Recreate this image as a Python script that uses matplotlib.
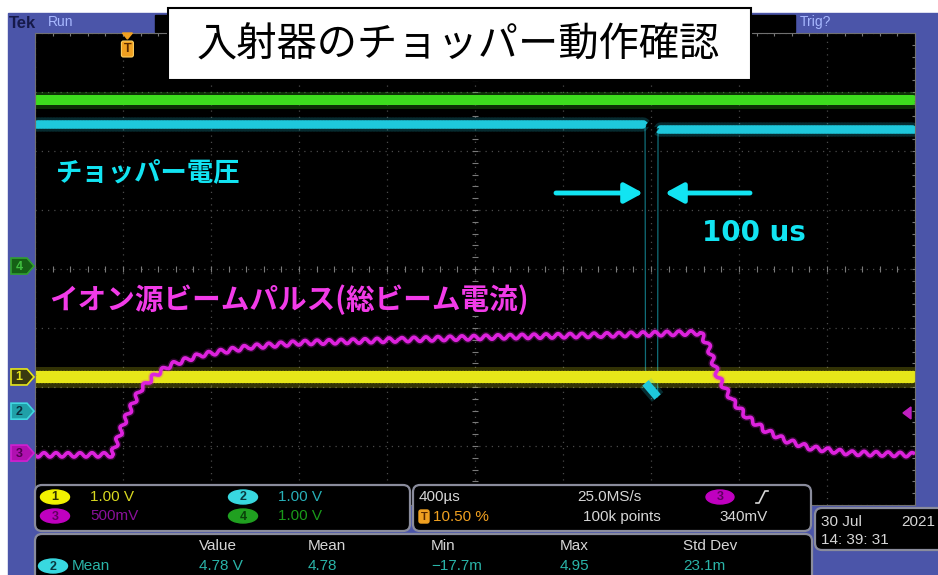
import numpy as np
import matplotlib
matplotlib.use('Agg')
import matplotlib.pyplot as plt
from matplotlib.patches import Rectangle, FancyBboxPatch, Polygon, Ellipse

plt.rcParams['font.family'] = ['Noto Sans CJK JP', 'DejaVu Sans']
fuenteScope = ['Liberation Sans Narrow', 'Liberation Sans', 'DejaVu Sans']

# Textos de la pantalla
tituloTexto = '入射器のチョッパー動作確認'
etiquetaChopper = 'チョッパー電圧'
etiquetaBeam = 'イオン源ビームパルス(総ビーム電流)'
etiquetaAncho = '100 us'

# Trazas (tiempo en us desde el borde izquierdo, nivel en divisiones)
tiempoTotal = [0, 4000]
verdeNivel = [2.86, 2.86]
amarilloNivel = [-1.83, -1.83]

cianTiempo = [0, 2773, 2775, 2830, 2832, 4000]
cianNivel = [2.46, 2.46, -1.93, -2.17, 2.37, 2.37]

magentaTiempo = [0, 350, 409, 477, 545, 614, 750, 977, 1205, 1659, 2114, 2568,
                 3023, 3059, 3105, 3168, 3236, 3318, 3409, 3523, 3705, 4000]
magentaNivel = [-3.15, -3.15, -2.56, -2.05, -1.80, -1.63, -1.46, -1.32, -1.25, -1.20, -1.15, -1.12,
                -1.08, -1.29, -1.83, -2.22, -2.51, -2.73, -2.90, -3.03, -3.12, -3.15]

# Canales
canales = ['1', '2', '3', '4']
canalOffset = [-1.83, -2.41, -3.12, 0.05]
canalEscala = ['1.00 V', '1.00 V', '500mV', '1.00 V']
posicionTrigger = 420
nivelTrigger = -2.44

# Lecturas inferiores
baseTiempo = '400\u00b5s'
muestreo = '25.0MS/s'
puntos = '100k points'
triggerPct = '10.50 %'
triggerVolt = '340mV'
fechaTexto = ['30 Jul', '2021', '14: 39: 31']
medidaCabecera = ['Value', 'Mean', 'Min', 'Max', 'Std Dev']
medidaValor = ['4.78 V', '4.78', '\u221217.7m', '4.95', '23.1m']

azulMarco = '#4b55a9'
verde = '#3ddc1e'
cian = '#1ec8dc'
cianTexto = '#12e4f2'
amarillo = '#e6e619'
magenta = '#dd22dd'
magentaTexto = '#f23be8'
naranja = '#f0a020'
grisTexto = '#d6d6d6'
tealTexto = '#2ab4a8'

W, H = 938, 575
fig = plt.figure(figsize=(W / 100, H / 100), dpi=100)

# Fondo (marco azul)
fondo = fig.add_axes([0, 0, 1, 1], zorder=0)
fondo.set_xlim(0, W)
fondo.set_ylim(H, 0)
fondo.axis('off')
fondo.add_patch(Rectangle((0, 0), W, H, color='white'))
fondo.add_patch(Rectangle((8, 13), W - 8, H - 13, color=azulMarco))
fondo.add_patch(Rectangle((155, 15), 640, 17, color='black'))
fondo.text(9, 23, 'Tek', color='#161a4a', fontsize=12, fontweight='bold', va='center', family=fuenteScope)
fondo.text(48, 22, 'Run', color='#a8b8ff', fontsize=10, va='center', family=fuenteScope)
fondo.text(800, 22, 'Trig?', color='#a8b8ff', fontsize=10, va='center', family=fuenteScope)

# Reticula
ax = fig.add_axes([35 / W, (H - 505) / H, 880 / W, 472 / H], zorder=1)
ax.set_facecolor('black')
ax.set_xlim(0, 4000)
ax.set_ylim(-4, 4)
ax.set_xticks(np.arange(0, 4001, 400))
ax.set_yticks(np.arange(-4, 5, 1))
ax.tick_params(length=0, labelbottom=False, labelleft=False)
ax.grid(color='#4a4a4a', linestyle=(0, (1, 4)), linewidth=0.9)
for s in ax.spines.values():
    s.set_color('#707070')
    s.set_linewidth(0.8)
ticksX = np.arange(0, 4001, 80)
ticksY = np.arange(-4, 4.01, 0.2)
ax.plot(ticksX, np.zeros_like(ticksX), ls='none', marker='|', ms=4, color='#7a7a7a', mew=0.8)
ax.plot(np.full_like(ticksY, 2000), ticksY, ls='none', marker='_', ms=4, color='#7a7a7a', mew=0.8)
ax.plot(np.full_like(ticksY, 4000), ticksY, ls='none', marker='_', ms=4, color='#7a7a7a', mew=0.8)
ax.plot(ticksX, np.full_like(ticksX, 4.0), ls='none', marker='|', ms=4, color='#7a7a7a', mew=0.8)


def trazo(x, y, color, lw, sketch=None):
    base = ax.plot(x, y, color=color, lw=lw * 1.8, alpha=0.22, solid_capstyle='butt')[0]
    linea = ax.plot(x, y, color=color, lw=lw, solid_capstyle='butt')[0]
    if sketch:
        base.set_sketch_params(*sketch)
        linea.set_sketch_params(*sketch)
    return linea


trazo(tiempoTotal, verdeNivel, verde, 6.0, (1.0, 3, 1))
ax.plot(cianTiempo, cianNivel, color=cian, lw=0.9, alpha=0.55)
trazo(cianTiempo[:2], cianNivel[:2], cian, 5.0, (1.0, 3, 1))
trazo(cianTiempo[4:], cianNivel[4:], cian, 5.0, (1.0, 3, 1))
trazo(tiempoTotal, amarilloNivel, amarillo, 7.5, (1.2, 3, 1))
trazo(cianTiempo[2:4], cianNivel[2:4], cian, 6.0)
trazo(magentaTiempo, magentaNivel, magenta, 2.6, (2.2, 12, 1))

# Capa superior en pixeles
ov = fig.add_axes([0, 0, 1, 1], zorder=2)
ov.set_xlim(0, W)
ov.set_ylim(H, 0)
ov.axis('off')
ov.patch.set_alpha(0)


def aPixel(t, v):
    xd, yd = ax.transData.transform((t, v))
    return xd, H - yd


# Marcadores de canal a la izquierda
marcaFondo = {'1': '#3a3a10', '2': '#20a0a8', '3': '#b010b0', '4': '#156015'}
marcaBorde = {'1': amarillo, '2': '#40d8e0', '3': '#d020d0', '4': '#30a030'}
marcaTexto = {'1': amarillo, '2': '#0a3040', '3': '#500050', '4': '#40c040'}
for nombre, nivel in zip(canales, canalOffset):
    _, yp = aPixel(0, nivel)
    forma = [(11, yp - 8), (27, yp - 8), (34, yp), (27, yp + 8), (11, yp + 8)]
    ov.add_patch(Polygon(forma, closed=True, facecolor=marcaFondo[nombre],
                         edgecolor=marcaBorde[nombre], lw=1.2))
    ov.text(19, yp + 0.5, nombre, color=marcaTexto[nombre], fontsize=9, fontweight='bold',
            ha='center', va='center', family=fuenteScope)

# Marcador de trigger (posicion y nivel)
xt, _ = aPixel(posicionTrigger, 0)
ov.add_patch(Polygon([(xt - 5, 33), (xt + 5, 33), (xt, 39)], color=naranja))
ov.add_patch(FancyBboxPatch((xt - 6, 41), 12, 16, boxstyle='round,pad=0,rounding_size=2',
                            facecolor=naranja, edgecolor='#ffd060', lw=0.8))
ov.text(xt, 49.5, 'T', color='#5a2a00', fontsize=9, fontweight='bold', ha='center', va='center',
        family=fuenteScope)
_, yn = aPixel(4000, nivelTrigger)
ov.add_patch(Polygon([(903, yn), (911, yn - 6), (911, yn + 6)], color='#c020c0'))

# Titulo en recuadro blanco
ov.add_patch(Rectangle((168, 8), 583, 72, facecolor='white', edgecolor='black', lw=1.5))
ov.text(458, 45, tituloTexto, color='black', fontsize=29, ha='center', va='center')

# Anotaciones
ov.text(56, 173, etiquetaChopper, color=cianTexto, fontsize=19, fontweight='bold', va='center')
ov.text(702, 233, etiquetaAncho, color=cianTexto, fontsize=20, fontweight='bold', va='center',
        family='DejaVu Sans')
ov.text(49, 300, etiquetaBeam, color=magentaTexto, fontsize=20.6, fontweight='bold', va='center')
flecha = dict(arrowstyle='-|>,head_length=0.55,head_width=0.3', color=cianTexto, lw=3.5,
              shrinkA=0, shrinkB=0, mutation_scale=20)
ov.annotate('', xy=(643, 193), xytext=(556, 193), arrowprops=flecha)
ov.annotate('', xy=(665, 193), xytext=(750, 193), arrowprops=flecha)

# Cajas de lecturas
caja = dict(boxstyle='round,pad=0,rounding_size=7', facecolor='black', edgecolor='#8a8c9c', lw=1.6)
ov.add_patch(FancyBboxPatch((35, 485), 375, 46, **caja))
ov.add_patch(FancyBboxPatch((413, 485), 398, 46, **caja))
ov.add_patch(FancyBboxPatch((815, 508), 140, 42, **caja))
ov.add_patch(FancyBboxPatch((35, 534), 777, 60, **caja))

chipColor = {'1': '#f2f200', '2': '#38d8e0', '3': '#c000c0', '4': '#20a020'}
chipTexto = {'1': '#303000', '2': '#0a3a40', '3': '#600060', '4': '#0a400a'}
escalaColor = {'1': '#d8d820', '2': '#28b0b8', '3': '#8a109a', '4': '#1a9a1a'}
chipPos = {'1': (55, 497), '2': (243, 497), '3': (55, 516), '4': (243, 516)}
for nombre, escala in zip(canales, canalEscala):
    cx, cy = chipPos[nombre]
    ov.add_patch(Ellipse((cx, cy), 29, 14, color=chipColor[nombre]))
    ov.text(cx, cy + 0.5, nombre, color=chipTexto[nombre], fontsize=9, fontweight='bold',
            ha='center', va='center', family=fuenteScope)
    ov.text(cx + 35, cy, escala, color=escalaColor[nombre], fontsize=11, va='center', family=fuenteScope)

ov.text(419, 497, baseTiempo, color=grisTexto, fontsize=11, va='center', family=fuenteScope)
ov.text(577, 497, muestreo, color=grisTexto, fontsize=11, va='center', family=fuenteScope)
ov.add_patch(Ellipse((720, 497), 28, 14, color='#c000c0'))
ov.text(720, 497.5, '3', color='#600060', fontsize=9, fontweight='bold', ha='center', va='center',
        family=fuenteScope)
ov.plot([756, 759, 765, 768], [503, 503, 491, 491], color=grisTexto, lw=1.2)
ov.add_patch(FancyBboxPatch((419, 510), 10, 13, boxstyle='round,pad=0,rounding_size=2', color=naranja))
ov.text(424, 517, 'T', color='#5a2a00', fontsize=8, fontweight='bold', ha='center', va='center',
        family=fuenteScope)
ov.text(433, 517, triggerPct, color=naranja, fontsize=11, va='center', family=fuenteScope)
ov.text(583, 517, puntos, color=grisTexto, fontsize=11, va='center', family=fuenteScope)
ov.text(719, 517, triggerVolt, color=grisTexto, fontsize=11, va='center', family=fuenteScope)

ov.text(821, 522, fechaTexto[0], color=grisTexto, fontsize=11, va='center', family=fuenteScope)
ov.text(935, 522, fechaTexto[1], color=grisTexto, fontsize=11, va='center', ha='right', family=fuenteScope)
ov.text(821, 540, fechaTexto[2], color=grisTexto, fontsize=11, va='center', family=fuenteScope)

columnasX = [199, 308, 431, 560, 683]
for cx, cab, val in zip(columnasX, medidaCabecera, medidaValor):
    ov.text(cx, 546, cab, color=grisTexto, fontsize=11, va='center', family=fuenteScope)
    ov.text(cx, 566, val, color=tealTexto, fontsize=11, va='center', family=fuenteScope)
ov.add_patch(Ellipse((53, 566), 29, 14, color='#38d8e0'))
ov.text(53, 566.5, '2', color='#0a3a40', fontsize=9, fontweight='bold', ha='center', va='center',
        family=fuenteScope)
ov.text(72, 566, 'Mean', color=tealTexto, fontsize=11, va='center', family=fuenteScope)

fig.savefig('out.png', dpi=100)
